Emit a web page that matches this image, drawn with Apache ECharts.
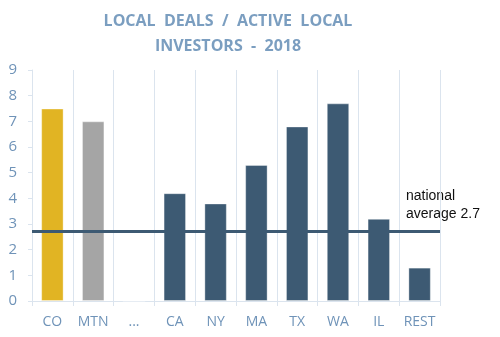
<!DOCTYPE html>
<html><head><meta charset="utf-8">
<script src="https://cdn.jsdelivr.net/npm/echarts@6/dist/echarts.min.js"></script>
<style>html,body{margin:0;padding:0;background:#fff}#c{width:500px;height:337px}</style>
</head><body><div id="c"></div>
<script>
const categories = ['CO','MTN','...','CA','NY','MA','TX','WA','IL','REST'];
const values = [7.5, 7.0, 0, 4.2, 3.8, 5.3, 6.8, 7.7, 3.2, 1.3];
const barColors = ['#e1b423','#a5a5a5','#3d5a73','#3d5a73','#3d5a73','#3d5a73','#3d5a73','#3d5a73','#3d5a73','#3d5a73'];
const nationalAverage = 2.7;
const yTicks = [0,1,2,3,4,5,6,7,8,9];

const chart = echarts.init(document.getElementById('c'));
chart.setOption({
  animation: false,
  title: {
    text: 'LOCAL  DEALS  /  ACTIVE  LOCAL\nINVESTORS  -  2018',
    left: 223, top: 4, textAlign: 'center',
    textStyle: {fontFamily: 'Open Sans', fontWeight: 'bold', fontSize: 16, color: '#7b9ec0', lineHeight: 25}
  },
  grid: {left: 32, right: 60, top: 70, bottom: 36},
  xAxis: {
    type: 'category', data: categories,
    axisLine: {lineStyle: {color: '#dbe4ee', width: 1}},
    axisTick: {show: true, interval: 0, alignWithLabel: false, length: 5, lineStyle: {color: '#dbe4ee'}},
    splitLine: {show: true, interval: 0, lineStyle: {color: '#dbe4ee', width: 1}},
    axisLabel: {interval: 0, color: '#6f93b8', fontFamily: 'Open Sans', fontSize: 14, margin: 14}
  },
  yAxis: {
    type: 'value', min: 0, max: 9, interval: 1,
    axisLine: {show: true, lineStyle: {color: '#dbe4ee'}},
    axisTick: {show: true, length: 4, lineStyle: {color: '#dbe4ee'}},
    splitLine: {show: false},
    axisLabel: {color: '#6f93b8', fontFamily: 'Open Sans', fontSize: 15, margin: 15,
      formatter: v => yTicks.includes(v) ? String(v) : ''}
  },
  series: [{
    type: 'bar', barWidth: '55%',
    data: values.map((v, i) => ({value: v, itemStyle: {color: barColors[i], borderColor: 'rgba(255,255,255,0.35)', borderWidth: 1}})),
    markLine: {
      silent: true, symbol: 'none',
      lineStyle: {color: '#3d5a73', width: 3, type: 'solid'},
      label: {show: false},
      data: [{yAxis: nationalAverage}]
    },
    z: 2
  }],
  graphic: [{
    type: 'text', left: 406, top: 187,
    style: {text: 'national\naverage ' + nationalAverage, fill: '#111', font: '14px "Liberation Sans", Arial', lineHeight: 18}
  }]
});
</script></body></html>
